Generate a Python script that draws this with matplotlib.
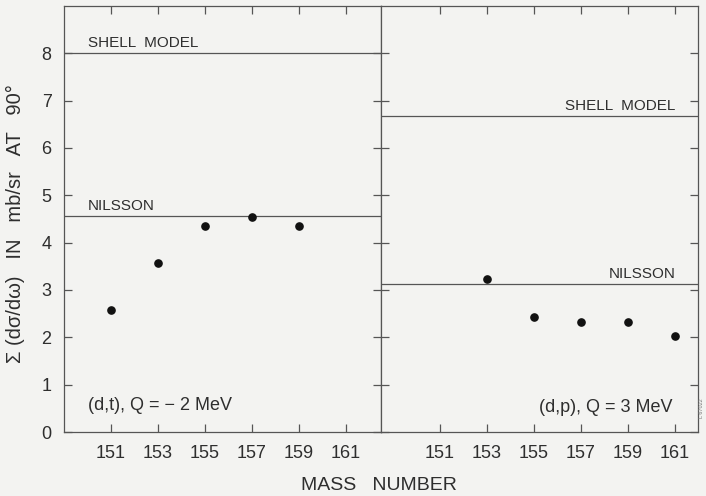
import matplotlib
matplotlib.use('Agg')
import matplotlib.pyplot as plt

plt.rcParams['font.family'] = ['Liberation Sans', 'DejaVu Sans']

# (d,t) reaction, Q = -2 MeV
mass_dt = [151, 153, 155, 157, 159]
sigma_dt = [2.58, 3.58, 4.35, 4.55, 4.35]
shell_dt = 8.0
nilsson_dt = 4.57

# (d,p) reaction, Q = 3 MeV
mass_dp = [153, 155, 157, 159, 161]
sigma_dp = [3.24, 2.43, 2.32, 2.32, 2.03]
shell_dp = 6.68
nilsson_dp = 3.13

xticks = [151, 153, 155, 157, 159, 161]
yticks = [0, 1, 2, 3, 4, 5, 6, 7, 8]

bg = '#f3f3f1'
ink = '#2e2e2e'
edge = '#555555'

fig = plt.figure(figsize=(7.06, 4.96), dpi=100, facecolor=bg)
ax1 = fig.add_axes([0.0907, 0.129, 0.449, 0.859], facecolor=bg)
ax2 = fig.add_axes([0.5397, 0.129, 0.449, 0.859], facecolor=bg, sharey=ax1)

for ax in (ax1, ax2):
    ax.set_xticks(xticks)
    ax.set_yticks(yticks)
    ax.set_ylim(0, 9)
    ax.tick_params(direction='in', length=6, width=0.9, color=edge,
                   top=True, right=True, labelsize=13, labelcolor=ink, pad=9)
    for s in ax.spines.values():
        s.set_color(edge)
        s.set_linewidth(0.9)

ax1.set_xlim(149.0, 162.5)
ax2.set_xlim(148.5, 162.0)
ax2.tick_params(labelleft=False)

# left panel
ax1.axhline(shell_dt, color=edge, lw=0.9)
ax1.axhline(nilsson_dt, color=edge, lw=0.9)
ax1.plot(mass_dt, sigma_dt, 'o', color='#111111', ms=5.2)
ax1.text(150.0, shell_dt + 0.06, 'SHELL  MODEL', fontsize=11, color=ink, va='bottom')
ax1.text(150.0, nilsson_dt + 0.06, 'NILSSON', fontsize=11, color=ink, va='bottom')
ax1.text(150.0, 0.56, '(d,t), Q = \u2212 2 MeV', fontsize=13, color=ink, va='center')

# right panel
ax2.axhline(shell_dp, color=edge, lw=0.9)
ax2.axhline(nilsson_dp, color=edge, lw=0.9)
ax2.plot(mass_dp, sigma_dp, 'o', color='#111111', ms=5.2)
ax2.text(161.05, shell_dp + 0.06, 'SHELL  MODEL', fontsize=11, color=ink,
         va='bottom', ha='right')
ax2.text(161.05, nilsson_dp + 0.06, 'NILSSON', fontsize=11, color=ink,
         va='bottom', ha='right')
ax2.text(160.9, 0.52, '(d,p), Q = 3 MeV', fontsize=13, color=ink, va='center', ha='right')

ax1.set_ylabel('\u03a3 (d\u03c3/d\u03c9)   IN   mb/sr   AT   90\u00b0', fontsize=14.5, color=ink)
ax1.yaxis.set_label_coords(-0.123, 0.49)
fig.text(0.537, 0.022, 'MASS   NUMBER', fontsize=14, color=ink, ha='center', va='center')
fig.text(0.993, 0.16, 'L 67022', fontsize=4, color='#777777', rotation=90, ha='center')

fig.savefig('out.png', dpi=100, facecolor=bg)
